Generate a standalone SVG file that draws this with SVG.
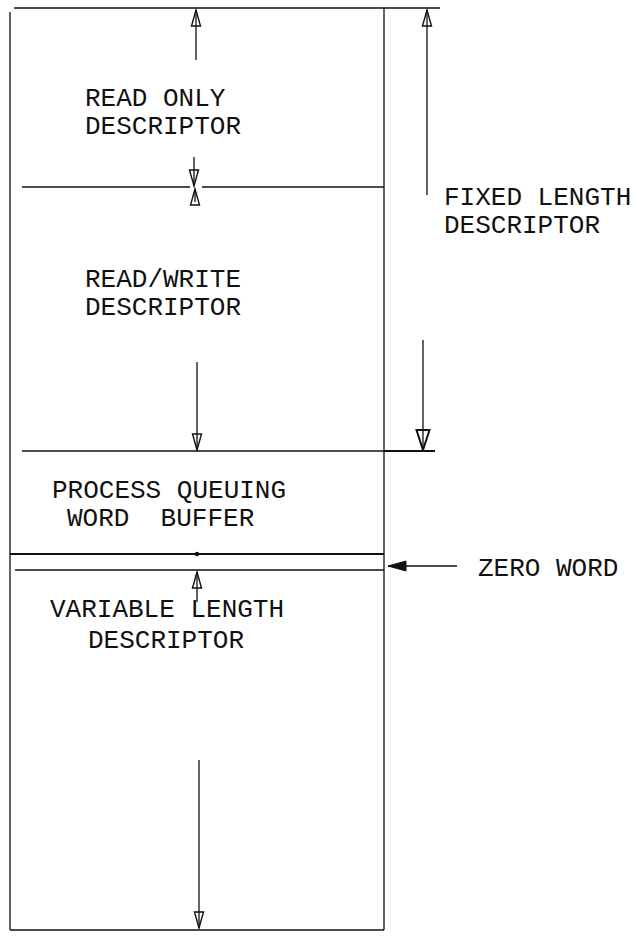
<svg xmlns="http://www.w3.org/2000/svg" width="637" height="944" viewBox="0 0 637 944">
<defs>
<style>
.t{font-family:"Liberation Mono","Courier New",monospace;font-size:26px;fill:#111;}
.ln{stroke:#111;stroke-width:1.3;fill:none;}
.bd{stroke:#111;stroke-width:2.2;fill:none;}
</style>
<marker id="open" viewBox="-18 -7 20 14" refX="0" refY="0" markerWidth="20" markerHeight="14" markerUnits="userSpaceOnUse" orient="auto">
<path d="M0,0 L-16,-4.5 L-16,4.5 Z" fill="none" stroke="#111" stroke-width="1.4"/>
</marker>
<marker id="openBig" viewBox="-22 -9 24 18" refX="0" refY="0" markerWidth="24" markerHeight="18" markerUnits="userSpaceOnUse" orient="auto">
<path d="M0,0 L-20,-6.5 L-20,6.5 Z" fill="none" stroke="#111" stroke-width="2"/>
</marker>
<marker id="fill" viewBox="-20 -7 22 14" refX="0" refY="0" markerWidth="22" markerHeight="14" markerUnits="userSpaceOnUse" orient="auto">
<path d="M0,0 L-18,-5 L-18,5 Z" fill="#111" stroke="#111" stroke-width="1"/>
</marker>
</defs>
<rect width="637" height="944" fill="#fff"/>
<g id="frame">
<line class="ln" x1="10" y1="12" x2="10" y2="930"/>
<line class="ln" x1="384" y1="8" x2="384" y2="930"/>
<line class="ln" x1="14" y1="8" x2="440" y2="8"/>
<line class="ln" x1="10" y1="930" x2="384" y2="930"/>
</g>
<g id="read-only">
<text class="t" x="85" y="106">READ ONLY</text>
<text class="t" x="85" y="134">DESCRIPTOR</text>
</g>
<g id="read-write">
<line class="ln" x1="22" y1="187" x2="190" y2="187"/>
<line class="ln" x1="202" y1="187" x2="384" y2="187"/>
<text class="t" x="85" y="287">READ/WRITE</text>
<text class="t" x="85" y="315">DESCRIPTOR</text>
</g>
<g id="process-queuing">
<line class="ln" x1="22" y1="451" x2="384" y2="451"/>
<text class="t" x="52" y="498">PROCESS QUEUING</text>
<text class="t" x="67" y="526" xml:space="preserve">WORD  BUFFER</text>
</g>
<g id="zero-word">
<line class="bd" x1="10" y1="554" x2="384" y2="554"/>
<circle cx="197" cy="554" r="2.2" fill="#111"/>
<line class="ln" x1="15" y1="570" x2="384" y2="570"/>
<text class="t" x="478" y="576">ZERO WORD</text>
</g>
<g id="variable-length">
<text class="t" x="50" y="617">VARIABLE LENGTH</text>
<text class="t" x="88" y="648">DESCRIPTOR</text>
</g>
<g id="fixed-length">
<text class="t" x="444" y="205">FIXED LENGTH</text>
<text class="t" x="444" y="233">DESCRIPTOR</text>
</g>
<g id="connectors">
<line class="ln" x1="196" y1="60" x2="196" y2="10" marker-end="url(#open)"/>
<line class="ln" x1="194" y1="157" x2="194" y2="186" marker-end="url(#open)"/>
<line class="ln" x1="195" y1="202" x2="195" y2="189" marker-end="url(#open)"/>
<line class="ln" x1="197" y1="362" x2="197" y2="450" marker-end="url(#open)"/>
<line class="ln" x1="197" y1="602" x2="197" y2="572" marker-end="url(#open)"/>
<line class="ln" x1="199" y1="760" x2="199" y2="928" marker-end="url(#open)"/>
<line class="ln" x1="427" y1="195" x2="427" y2="10" marker-end="url(#open)"/>
<line class="ln" x1="423" y1="340" x2="423" y2="450" marker-end="url(#openBig)"/>
<line class="bd" x1="384" y1="451" x2="435" y2="451"/>
<line class="ln" x1="457" y1="566" x2="388" y2="566" marker-end="url(#fill)"/>
</g>
</svg>
